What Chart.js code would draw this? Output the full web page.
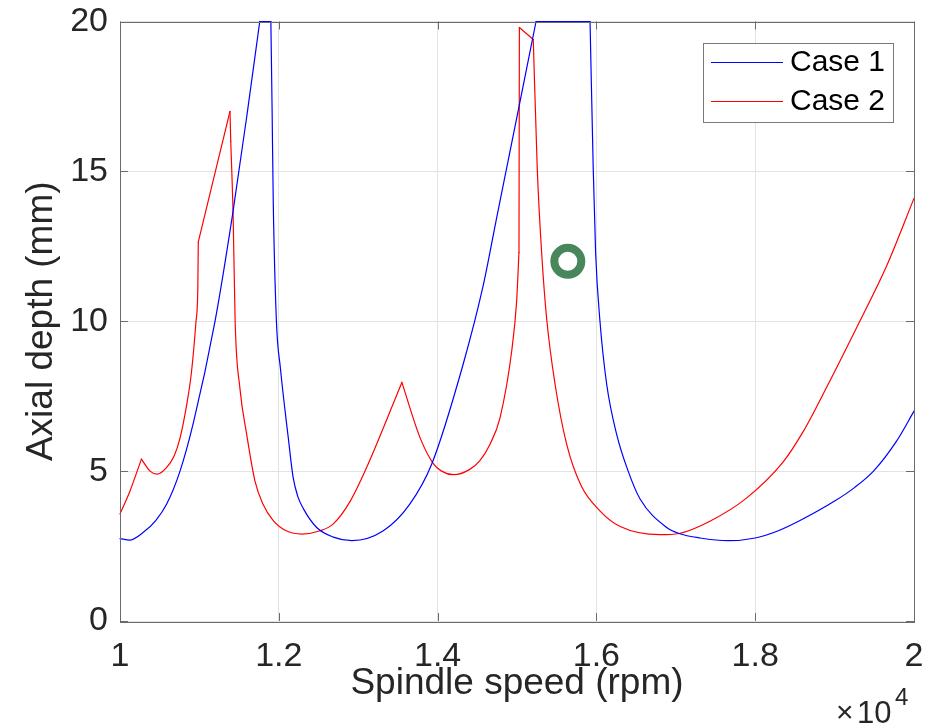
<!DOCTYPE html>
<html>
<head>
<meta charset="utf-8">
<script src="https://cdn.jsdelivr.net/npm/chart.js@4.4.1/dist/chart.umd.min.js"></script>
<style>
  body { margin: 0; background: #fff; }
  canvas { display: block; }
</style>
</head>
<body>
<canvas id="myChart" width="946" height="727"></canvas>
<script>
// spindle speed is in units of 1e4 rpm (axis shows x10^4), depth in mm
const caseOneSpeed = [1.000, 1.012, 1.029, 1.045, 1.0588, 1.0756, 1.0923, 1.1196, 1.142, 1.160, 1.176, 1.190, 1.1915, 1.193, 1.197, 1.202, 1.212, 1.218, 1.224, 1.2309, 1.2477, 1.2687, 1.292, 1.3316, 1.365, 1.3925, 1.432, 1.4576, 1.474, 1.491, 1.5038, 1.524, 1.592, 1.596, 1.599, 1.6045, 1.613, 1.6256, 1.640, 1.655, 1.6885, 1.704, 1.7305, 1.766, 1.800, 1.830, 1.8564, 1.900, 1.925, 1.949, 1.978, 2.000];
const caseOneDepth = [2.75, 2.70, 2.95, 3.35, 3.9, 5.0, 6.6, 9.99, 13.6, 16.9, 20, 20, 17.2, 14.0, 10.0, 8.44, 6.1, 4.8, 4.15, 3.75, 3.12, 2.8, 2.68, 3.01, 3.9, 5.23, 8.55, 11.21, 13.4, 15.64, 17.33, 20, 20, 15.1, 12.3, 10.0, 7.89, 6.22, 5.0, 4.07, 3.12, 2.92, 2.77, 2.68, 2.77, 3.02, 3.35, 4.0, 4.45, 5.0, 6.0, 7.0];
// corners where the curve is not smooth
const caseOneCorners = [1.176, 1.190, 1.524, 1.592];

const caseTwoSpeed = [1.000, 1.0126, 1.027, 1.0378, 1.047, 1.058, 1.068, 1.0756, 1.0839, 1.090, 1.0957, 1.098, 1.0986, 1.1385, 1.1395, 1.1425, 1.145, 1.151, 1.1596, 1.170, 1.180, 1.193, 1.210, 1.229, 1.252, 1.2687, 1.290, 1.3106, 1.355, 1.378, 1.3946, 1.405, 1.420, 1.440, 1.453, 1.466, 1.4786, 1.4933, 1.4995, 1.5025, 1.5030, 1.5205, 1.5255, 1.531, 1.5373, 1.548, 1.5626, 1.581, 1.605, 1.630, 1.680, 1.704, 1.743, 1.789, 1.835, 1.860, 1.890, 1.928, 1.9656, 2.000];
const caseTwoDepth = [3.57, 4.34, 5.40, 5.0, 4.90, 5.1, 5.5, 6.1, 7.2, 8.3, 9.99, 11.1, 12.65, 17.0, 16.0, 13.5, 10.0, 7.77, 6.22, 4.67, 3.9, 3.35, 3.0, 2.90, 3.01, 3.24, 4.0, 5.12, 7.96, 6.11, 5.25, 5.0, 4.88, 5.05, 5.34, 5.9, 6.78, 9.0, 10.65, 12.3, 19.8, 19.4, 15.1, 12.3, 10.1, 7.89, 5.89, 4.5, 3.66, 3.15, 2.88, 2.92, 3.33, 4.1, 5.3, 6.3, 7.8, 9.8, 11.85, 14.1];
const caseTwoCorners = [1.027, 1.0986, 1.1385, 1.1395, 1.355, 1.5025, 1.5030, 1.5205];

// operating point marker
const markerSpeed = [1.564];
const markerDepth = [12];

const xTickValues = [1, 1.2, 1.4, 1.6, 1.8, 2];
const xTickLabels = ['1', '1.2', '1.4', '1.6', '1.8', '2'];
const yTickValues = [0, 5, 10, 15, 20];
const yTickLabels = ['0', '5', '10', '15', '20'];

const seriesNames = ['Case 1', 'Case 2'];
const seriesColors = ['#0000ff', '#ff0000'];

const FONT = "'Liberation Sans', Arial, Helvetica, sans-serif";
const INK = '#262626';

// cut a curve into smooth pieces at its corners so the monotone spline keeps the cusps sharp
function splitCurve(xs, ys, corners) {
    const pieces = [];
    let cur = [];
    xs.forEach((x, i) => {
        cur.push({x: x, y: ys[i]});
        if (corners.includes(x) && cur.length > 1) {
            pieces.push(cur);
            cur = [{x: x, y: ys[i]}];
        }
    });
    if (cur.length > 1) pieces.push(cur);
    return pieces;
}

function curveSets(xs, ys, corners, color, name) {
    return splitCurve(xs, ys, corners).map((piece) => ({
        label: name,
        data: piece,
        showLine: true,
        borderColor: color,
        borderWidth: 1.2,
        borderCapStyle: 'round',
        pointRadius: 0,
        cubicInterpolationMode: 'monotone',
        clip: 2
    }));
}

// box, inward ticks, legend and exponent label like matlab
const matlabBits = {
    id: 'matlabBits',
    afterDatasetsDraw(chart) {
        const ctx = chart.ctx;
        const area = chart.chartArea;
        const xs = chart.scales.x;
        const ys = chart.scales.y;
        ctx.save();
        ctx.strokeStyle = '#6b6b6b';
        ctx.lineWidth = 1;
        ctx.strokeRect(Math.round(area.left) + 0.5, Math.round(area.top) + 0.5, Math.round(area.right - area.left), Math.round(area.bottom - area.top));
        const tl = 8;
        ctx.beginPath();
        xTickValues.forEach((v) => {
            const px = Math.round(xs.getPixelForValue(v)) + 0.5;
            ctx.moveTo(px, area.bottom);
            ctx.lineTo(px, area.bottom - tl);
            ctx.moveTo(px, area.top);
            ctx.lineTo(px, area.top + tl);
        });
        yTickValues.forEach((v) => {
            const py = Math.round(ys.getPixelForValue(v)) + 0.5;
            ctx.moveTo(area.left, py);
            ctx.lineTo(area.left + tl, py);
            ctx.moveTo(area.right, py);
            ctx.lineTo(area.right - tl, py);
        });
        ctx.stroke();

        // legend box
        const lx = 703, ly = 43, lw = 190, lh = 79;
        ctx.fillStyle = '#ffffff';
        ctx.fillRect(lx, ly, lw, lh);
        ctx.strokeStyle = '#7a7a7a';
        ctx.strokeRect(lx + 0.5, ly + 0.5, lw, lh);
        const rows = [62, 101];
        ctx.font = '30px ' + FONT;
        ctx.textBaseline = 'middle';
        ctx.textAlign = 'left';
        seriesNames.forEach((name, i) => {
            ctx.strokeStyle = seriesColors[i];
            ctx.beginPath();
            ctx.moveTo(711, rows[i] + 0.5);
            ctx.lineTo(783, rows[i] + 0.5);
            ctx.stroke();
            ctx.fillStyle = '#000000';
            ctx.fillText(name, 790, rows[i] + 1);
        });

        // x10^4 exponent
        ctx.fillStyle = INK;
        ctx.textBaseline = 'alphabetic';
        ctx.font = '30px ' + FONT;
        ctx.fillText('\u00d7', 836, 722);
        ctx.font = '31px ' + FONT;
        ctx.fillText('10', 857, 723);
        ctx.font = '24px ' + FONT;
        ctx.fillText('4', 895, 705);
        ctx.restore();
    }
};

const chartTarget = document.querySelector('#myChart');

const datasets = [
    ...curveSets(caseOneSpeed, caseOneDepth, caseOneCorners, seriesColors[0], seriesNames[0]),
    ...curveSets(caseTwoSpeed, caseTwoDepth, caseTwoCorners, seriesColors[1], seriesNames[1]),
    {
        label: 'marker',
        data: markerSpeed.map((x, i) => ({x: x, y: markerDepth[i]})),
        showLine: false,
        pointRadius: 13.5,
        pointBorderWidth: 8,
        borderColor: '#47875b',
        pointBorderColor: '#47875b',
        backgroundColor: 'rgba(0,0,0,0)',
        pointBackgroundColor: 'rgba(0,0,0,0)'
    }
];

const myChart = new Chart(chartTarget, {
    type: 'scatter',
    data: {datasets: datasets},
    options: {
        responsive: false,
        animation: false,
        events: [],
        layout: {padding: {top: 19, right: 32, left: 0, bottom: 0}},
        plugins: {
            legend: {display: false},
            tooltip: {enabled: false}
        },
        scales: {
            x: {
                type: 'linear',
                min: 1,
                max: 2,
                afterBuildTicks: (scale) => { scale.ticks = xTickValues.map((v) => ({value: v})); },
                afterFit: (scale) => {
                    scale.height = 106;
                    scale.paddingLeft = 0;
                    scale.paddingRight = 0;
                },
                grid: {color: '#e3e3e3', drawTicks: false, lineWidth: 1},
                border: {display: false},
                ticks: {
                    autoSkip: false,
                    maxRotation: 0,
                    padding: 15,
                    color: INK,
                    font: {family: FONT, size: 34},
                    callback: (value, index) => xTickLabels[index]
                },
                title: {
                    display: true,
                    text: 'Spindle speed (rpm)',
                    color: INK,
                    font: {family: FONT, size: 37},
                    padding: {top: 0, bottom: 21}
                }
            },
            y: {
                type: 'linear',
                min: 0,
                max: 20,
                afterBuildTicks: (scale) => { scale.ticks = yTickValues.map((v) => ({value: v})); },
                afterFit: (scale) => {
                    scale.width = 120;
                    scale.paddingTop = 0;
                    scale.paddingBottom = 0;
                },
                grid: {color: '#e3e3e3', drawTicks: false, lineWidth: 1},
                border: {display: false},
                ticks: {
                    padding: 12,
                    color: INK,
                    font: {family: FONT, size: 34},
                    callback: (value, index) => yTickLabels[index]
                },
                title: {
                    display: true,
                    text: 'Axial depth (mm)',
                    color: INK,
                    font: {family: FONT, size: 37},
                    padding: {top: 20, bottom: 0}
                }
            }
        }
    },
    plugins: [matlabBits]
});
</script>
</body>
</html>
